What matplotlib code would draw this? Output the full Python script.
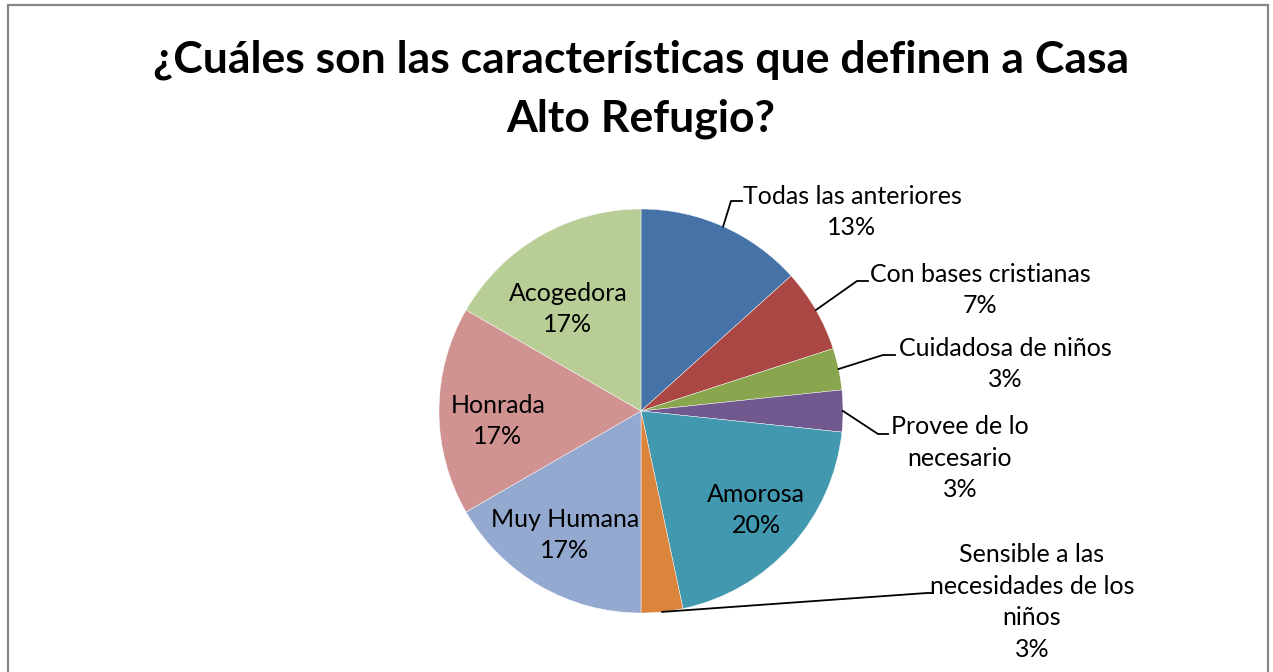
import numpy as np
import matplotlib.pyplot as plt
from matplotlib.patches import Rectangle

# Data (counts out of 30 answers)
categorias = ['Todas las anteriores', 'Con bases cristianas', 'Cuidadosa de niños',
              'Provee de lo\nnecesario', 'Amorosa', 'Sensible a las\nnecesidades de los\nniños',
              'Muy Humana', 'Honrada', 'Acogedora']
valores = [4, 2, 1, 1, 6, 1, 5, 5, 5]
colores = ['#4572A7', '#AA4643', '#89A54E', '#71588F', '#4198AF',
           '#DB843D', '#93A9CF', '#D19392', '#B9CD96']

W, H = 1273, 672
cx, cy, R = 641, H - 411, 202

plt.rcParams['font.family'] = ['Lato', 'DejaVu Sans']

fig = plt.figure(figsize=(W / 100, H / 100), dpi=100)
ax = fig.add_axes([0, 0, 1, 1])

# frame of the chart area
ax.add_patch(Rectangle((8, -10), 1260, H - 5 + 10, fill=False, edgecolor='#868686', linewidth=1.6))

wedges, _ = ax.pie(valores, colors=colores, startangle=90, counterclock=False,
                   center=(cx, cy), radius=R, frame=True,
                   wedgeprops=dict(edgecolor='white', linewidth=0.3))
ax.set_xlim(0, W)
ax.set_ylim(0, H)
ax.axis('off')

total = sum(valores)
pct = [f'{round(v / total * 100)}%' for v in valores]

# label layout: inside labels -> text center; outside -> (elbow, line end, text center)
dentro = {
    4: (756, H - 510),
    6: (565, H - 535),
    7: (498, H - 421),
    8: (568, H - 309),
}
fuera = {
    0: ((731, H - 201), (742, H - 201), (852, H - 212)),
    1: ((857, H - 281), (868, H - 281), (980, H - 290)),
    2: ((883, H - 355), (895, H - 355), (1005, H - 364)),
    3: ((878, H - 434), (888, H - 434), (960, H - 458)),
    5: ((927, H - 593), (932, H - 593), (1032, H - 602)),
}

fs = 18
ls = 1.45
for i, w in enumerate(wedges):
    ang = np.deg2rad((w.theta1 + w.theta2) / 2)
    texto = categorias[i] + '\n' + pct[i]
    if i in dentro:
        tx, ty = dentro[i]
        ax.text(tx, ty, texto, ha='center', va='center', fontsize=fs, color='black',
                linespacing=ls)
    else:
        x0, y0 = cx + R * np.cos(ang), cy + R * np.sin(ang)
        (ex, ey), (lx, ly), (tx, ty) = fuera[i]
        ax.plot([x0, ex, lx], [y0, ey, ly], color='black', linewidth=1.3)
        ax.text(tx, ty, texto, ha='center', va='center', fontsize=fs, color='black',
                linespacing=ls)

ax.text(641, H - 89, '¿Cuáles son las características que definen a Casa\nAlto Refugio?',
        ha='center', va='center', fontsize=32, fontweight='bold', linespacing=1.55)

fig.savefig('out.png', dpi=100)
